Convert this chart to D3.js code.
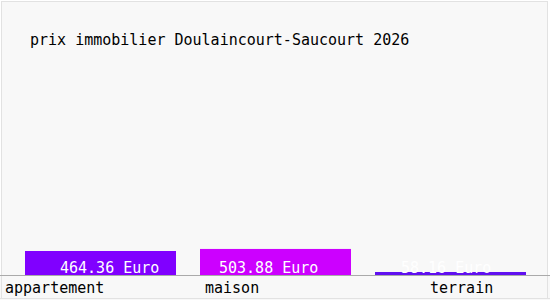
<!DOCTYPE html>
<html><head><meta charset="utf-8">
<script src="https://cdn.jsdelivr.net/npm/d3@7"></script>
<style>body{margin:0;background:#fff}svg{display:block}</style>
</head><body>
<script>
const categories = ["appartement", "maison", "terrain"];
const values = [464.36, 503.88, 58.16];
const valueLabels = ["464.36 Euro", "503.88 Euro", "58.16 Euro"];
const colors = ["#8000ff", "#cc00ff", "#6010f0"];
const title = "prix immobilier Doulaincourt-Saucourt 2026";

const W = 550, H = 300;
const svg = d3.select("body").append("svg").attr("width", W).attr("height", H);
svg.append("rect").attr("x", 1.5).attr("y", 1.5).attr("width", W - 4).attr("height", H - 3)
  .attr("fill", "#f8f8f8").attr("stroke", "#e2e2e2");

const font = "'DejaVu Sans Mono', monospace";
svg.append("text").attr("x", 30).attr("y", 45).text(title)
  .attr("font-family", font).attr("font-size", 15).attr("fill", "#000");

const baseY = 275;
const y = d3.scaleLinear().domain([0, 4835]).range([baseY, 25]);

const barX0 = 25, step = 175, barW = 151;
const xs = d3.scaleOrdinal().domain(categories).range(categories.map((c, i) => barX0 + i * step));

svg.selectAll("rect.bar").data(categories).join("rect").attr("class", "bar")
  .attr("x", d => xs(d)).attr("width", barW)
  .attr("y", (d, i) => y(values[i])).attr("height", (d, i) => baseY - y(values[i]))
  .attr("fill", (d, i) => colors[i]);

const textDx = [35, 19, 26];
svg.selectAll("text.val").data(categories).join("text").attr("class", "val")
  .attr("x", (d, i) => xs(d) + textDx[i]).attr("y", baseY - 2)
  .text((d, i) => valueLabels[i])
  .attr("font-family", font).attr("font-size", 15).attr("fill", "#fff");

// axis line
svg.append("rect").attr("x", 0).attr("y", baseY + 1).attr("width", W).attr("height", H - baseY - 1).attr("fill", "#f8f8f8");
svg.append("line").attr("x1", 1.5).attr("x2", 1.5).attr("y1", baseY + 1).attr("y2", H - 1).attr("stroke", "#e2e2e2");
svg.append("line").attr("x1", W - 2.5).attr("x2", W - 2.5).attr("y1", baseY + 1).attr("y2", H - 1).attr("stroke", "#e2e2e2");
svg.append("line").attr("x1", 0).attr("x2", W).attr("y1", H - 1.5).attr("y2", H - 1.5).attr("stroke", "#e2e2e2");
svg.append("line").attr("x1", 0).attr("x2", W).attr("y1", baseY + 0.5).attr("y2", baseY + 0.5)
  .attr("stroke", "#aaa");

const labelDx = [-20, 5, 55];
svg.selectAll("text.cat").data(categories).join("text").attr("class", "cat")
  .attr("x", (d, i) => xs(d) + labelDx[i]).attr("y", 293)
  .text(d => d)
  .attr("font-family", font).attr("font-size", 15).attr("fill", "#000");
</script>
</body></html>
